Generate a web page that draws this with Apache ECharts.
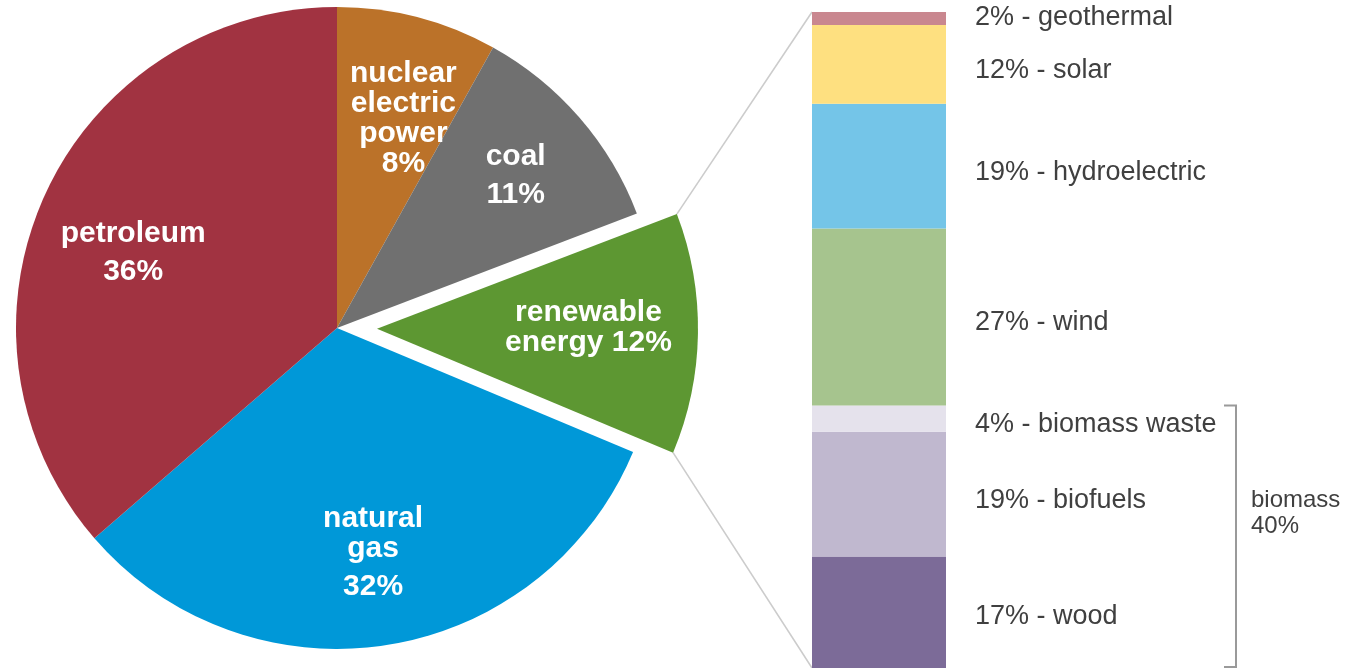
<!DOCTYPE html>
<html>
<head>
<meta charset="utf-8">
<script src="https://cdn.jsdelivr.net/npm/echarts@6/dist/echarts.min.js"></script>
<style>
  html, body { margin: 0; padding: 0; background: #fff; }
  #main { width: 1353px; height: 668px; }
</style>
</head>
<body>
<div id="main"></div>
<script>
// energy sources (pie), clockwise from 12 o'clock
var sourceNames = ['nuclear electric power', 'coal', 'renewable energy', 'natural gas', 'petroleum']
var sourceLabels = [
  '{a|nuclear}\n{a|electric}\n{a|power}\n{a|8%}',
  '{a|coal}\n{b|11%}',
  '{a|renewable}\n{a|energy 12%}',
  '{a|natural}\n{a|gas}\n{b|32%}',
  '{a|petroleum}\n{b|36%}'
]
var sourceValues = [8, 11, 12, 32, 36]
var sourceColors = ['#bb7229', '#707070', '#5d9732', '#0098d8', '#a13341']
// hand placement of the slice labels, as in the original
// (label ring is not exploded, so renewable's shift includes the explode offset)
var labelShift = [[9, 12], [6, 1], [23, -4], [0, 3], [4, 24]]

// renewable breakdown (stacked bar), bottom to top
var renewNames = ['wood', 'biofuels', 'biomass waste', 'wind', 'hydroelectric', 'solar', 'geothermal']
var renewValues = [17, 19, 4, 27, 19, 12, 2]
var renewColors = ['#7c6b98', '#c0b8cf', '#e5e2ec', '#a6c48e', '#74c5e8', '#fee080', '#c9878f']
var biomassParts = ['wood', 'biofuels', 'biomass waste']

var pieCenter = [337, 328]
var pieRadius = 321
var pieOffset = 40
var font = 'Liberation Sans, Arial, sans-serif'

var myChart = echarts.init(document.getElementById('main'))

var pieData = sourceNames.map(function (n, i) {
  return {
    name: n,
    value: sourceValues[i],
    selected: n === 'renewable energy',
    itemStyle: { color: sourceColors[i] }
  }
})
var pieLabelData = sourceNames.map(function (n, i) {
  return {
    name: n,
    value: sourceValues[i],
    label: { formatter: sourceLabels[i], offset: labelShift[i] }
  }
})

var barSeries = renewNames.map(function (n, i) {
  return {
    name: n,
    type: 'bar',
    stack: 'renew',
    barWidth: '100%',
    itemStyle: { color: renewColors[i] },
    label: {
      show: true,
      position: 'right',
      distance: 29,
      offset: n === 'geothermal' ? [0, -1] : (n === 'wood' ? [0, 4] : [0, 6]),
      color: '#404040',
      fontFamily: font,
      fontSize: 27,
      formatter: function (p) { return p.value + '% - ' + p.seriesName }
    },
    data: [renewValues[i]]
  }
})

var pieLabelStyle = { color: '#fff', fontFamily: font, fontWeight: 'bold', fontSize: 30 }

var option = {
  animation: false,
  grid: { left: 812, top: 12, width: 134, height: 656 },
  xAxis: { type: 'category', data: ['renewable'], show: false },
  yAxis: { type: 'value', min: 0, max: 100, show: false },
  series: [
    {
      type: 'pie',
      center: pieCenter,
      radius: pieRadius,
      startAngle: 90,
      clockwise: true,
      selectedMode: 'single',
      selectedOffset: pieOffset,
      silent: true,
      label: { show: false },
      labelLine: { show: false },
      data: pieData
    },
    {
      // label ring only, drawn above the exploded slice
      type: 'pie',
      z: 5,
      center: pieCenter,
      radius: [130, pieRadius],
      startAngle: 90,
      clockwise: true,
      silent: true,
      itemStyle: { color: 'rgba(0,0,0,0)' },
      label: {
        show: true,
        position: 'inside',
        rich: {
          a: Object.assign({ lineHeight: 30 }, pieLabelStyle),
          b: Object.assign({ lineHeight: 46 }, pieLabelStyle)
        }
      },
      labelLine: { show: false },
      data: pieLabelData
    }
  ].concat(barSeries)
}
myChart.setOption(option)

// connector lines from the exploded slice to the bar, and the biomass bracket
var total = sourceValues.reduce(function (a, b) { return a + b }, 0)
var before = 0
var idx = sourceNames.indexOf('renewable energy')
for (var i = 0; i < idx; i++) before += sourceValues[i]
var a0 = before / total * 2 * Math.PI
var a1 = (before + sourceValues[idx]) / total * 2 * Math.PI
var amid = (a0 + a1) / 2
var vx = pieCenter[0] + pieOffset * Math.sin(amid)
var vy = pieCenter[1] - pieOffset * Math.cos(amid)
var p0 = [vx + pieRadius * Math.sin(a0), vy - pieRadius * Math.cos(a0)]
var p1 = [vx + pieRadius * Math.sin(a1), vy - pieRadius * Math.cos(a1)]

var renewTotal = renewValues.reduce(function (a, b) { return a + b }, 0)
var barTop = myChart.convertToPixel({ gridIndex: 0 }, [0, renewTotal])
var barBottom = myChart.convertToPixel({ gridIndex: 0 }, [0, 0])
var barLeft = 812
var biomass = 0
renewNames.forEach(function (n, i) { if (biomassParts.indexOf(n) >= 0) biomass += renewValues[i] })
var bioTop = myChart.convertToPixel({ gridIndex: 0 }, [0, biomass])[1]
var bioBottom = barBottom[1]
var bx = 1236

myChart.setOption({
  graphic: [
    { type: 'line', shape: { x1: p0[0], y1: p0[1], x2: barLeft, y2: barTop[1] }, style: { stroke: '#cccccc', lineWidth: 1.6 } },
    { type: 'line', shape: { x1: p1[0], y1: p1[1], x2: barLeft, y2: barBottom[1] }, style: { stroke: '#cccccc', lineWidth: 1.6 } },
    {
      type: 'polyline',
      shape: { points: [[bx - 12, bioTop], [bx, bioTop], [bx, bioBottom - 1], [bx - 12, bioBottom - 1]] },
      style: { stroke: '#9a9a9a', lineWidth: 2, fill: null }
    },
    {
      type: 'text',
      left: bx + 15,
      top: (bioTop + bioBottom) / 2 - 49,
      style: {
        text: 'biomass\n' + biomass + '%',
        fill: '#404040',
        font: '24px Liberation Sans, Arial, sans-serif',
        lineHeight: 26
      }
    }
  ]
})
</script>
</body>
</html>
